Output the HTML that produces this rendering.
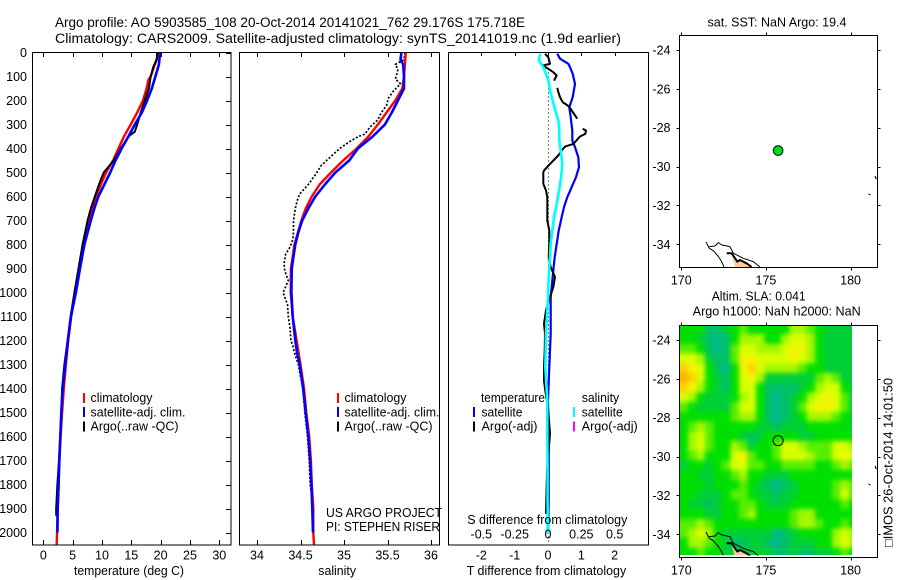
<!DOCTYPE html>
<html lang="en">
<head>
<meta charset="utf-8">
<title>Argo profile 5903585_108</title>
<style>
html,body{margin:0;padding:0;background:#fff;}
svg{display:block;}
text{font-family:"Liberation Sans",sans-serif;font-size:12.5px;fill:#000;}
.t{font-size:13.5px;}
</style>
</head>
<body>
<svg id="fig" xmlns="http://www.w3.org/2000/svg" width="900" height="580" viewBox="0 0 900 580">
  <defs>
    <clipPath id="clip-map1"><rect x="679.5" y="35.5" width="198" height="232"/></clipPath>
    <clipPath id="clip-map2"><rect x="679.5" y="325.5" width="198" height="230"/></clipPath>
    <clipPath id="clip-heat"><rect x="680" y="326" width="172" height="229"/></clipPath>
    <clipPath id="clip-p1"><rect x="32.5" y="52.5" width="198.5" height="492.5"/></clipPath>
    <clipPath id="clip-p2"><rect x="239.5" y="52.5" width="200" height="492.5"/></clipPath>
    <clipPath id="clip-p3"><rect x="448.5" y="52.5" width="200" height="492.5"/></clipPath>
    <filter id="heat-smooth" x="-10%" y="-10%" width="120%" height="120%" color-interpolation-filters="sRGB">
      <feGaussianBlur stdDeviation="2.4"/>
    </filter>
  </defs>

  <text class="t" x="55" y="27" textLength="470" lengthAdjust="spacingAndGlyphs">Argo profile: AO 5903585_108 20-Oct-2014 20141021_762 29.176S 175.718E</text>
  <text class="t" x="55" y="43" textLength="566" lengthAdjust="spacingAndGlyphs">Climatology: CARS2009. Satellite-adjusted climatology: synTS_20141019.nc (1.9d earlier)</text>

  <g id="p1"></g>
  <g id="p2"></g>
  <g id="p3"></g>
  <g id="m1"></g>
  <g id="m2"></g>

  <text x="74" y="575" textLength="110" lengthAdjust="spacingAndGlyphs">temperature (deg C)</text>
  <text x="318.3" y="575" textLength="37.7" lengthAdjust="spacingAndGlyphs">salinity</text>
  <text x="466.7" y="575" textLength="159.5" lengthAdjust="spacingAndGlyphs">T difference from climatology</text>
  <text x="467.3" y="524" textLength="160" lengthAdjust="spacingAndGlyphs">S difference from climatology</text>

  <g>
    <rect x="83" y="393" width="2" height="10" fill="#ff0000"/>
    <rect x="83" y="407" width="2" height="10" fill="#0000ff"/>
    <rect x="83" y="421.5" width="2" height="10" fill="#000"/>
    <text x="90.5" y="402" textLength="62" lengthAdjust="spacingAndGlyphs">climatology</text>
    <text x="90.5" y="416.5" textLength="95" lengthAdjust="spacingAndGlyphs">satellite-adj. clim.</text>
    <text x="90.5" y="430.5" textLength="88" lengthAdjust="spacingAndGlyphs">Argo(..raw -QC)</text>
  </g>
  <g>
    <rect x="337" y="393" width="2" height="10" fill="#ff0000"/>
    <rect x="337" y="407" width="2" height="10" fill="#0000ff"/>
    <rect x="337" y="421.5" width="2" height="10" fill="#000"/>
    <text x="344.5" y="402" textLength="62" lengthAdjust="spacingAndGlyphs">climatology</text>
    <text x="344.5" y="416.5" textLength="95" lengthAdjust="spacingAndGlyphs">satellite-adj. clim.</text>
    <text x="344.5" y="430.5" textLength="88" lengthAdjust="spacingAndGlyphs">Argo(..raw -QC)</text>
  </g>
  <g>
    <text x="481" y="402" textLength="64" lengthAdjust="spacingAndGlyphs">temperature</text>
    <rect x="473" y="407" width="2" height="10" fill="#0000ff"/>
    <text x="481.5" y="416.5" textLength="41" lengthAdjust="spacingAndGlyphs">satellite</text>
    <rect x="473" y="421.5" width="2" height="10" fill="#000"/>
    <text x="481.5" y="430.5" textLength="56" lengthAdjust="spacingAndGlyphs">Argo(-adj)</text>
    <text x="581.7" y="402" textLength="37.5" lengthAdjust="spacingAndGlyphs">salinity</text>
    <rect x="573" y="407" width="2" height="10" fill="#00ffff"/>
    <text x="581.7" y="416.5" textLength="41" lengthAdjust="spacingAndGlyphs">satellite</text>
    <rect x="573" y="421.5" width="2" height="10" fill="#ff00ff"/>
    <text x="581.7" y="430.5" textLength="56" lengthAdjust="spacingAndGlyphs">Argo(-adj)</text>
  </g>

  <text x="326" y="517" textLength="116" lengthAdjust="spacingAndGlyphs">US ARGO PROJECT</text>
  <text x="326" y="531" textLength="114" lengthAdjust="spacingAndGlyphs">PI: STEPHEN RISER</text>

  <text x="707.5" y="26.5" textLength="139" lengthAdjust="spacingAndGlyphs">sat. SST: NaN Argo: 19.4</text>
  <text x="711.7" y="300.5" textLength="94" lengthAdjust="spacingAndGlyphs">Altim. SLA: 0.041</text>
  <text x="692.7" y="315.5" textLength="168" lengthAdjust="spacingAndGlyphs">Argo h1000: NaN h2000: NaN</text>
  <text transform="translate(892.7 547) rotate(-90)" x="0" y="0" textLength="169" lengthAdjust="spacingAndGlyphs">□IMOS 26-Oct-2014 14:01:50</text>
</svg>

<script>
/* ---------- axis tick values ---------- */
const depthTicks = [0,100,200,300,400,500,600,700,800,900,1000,1100,1200,1300,1400,1500,1600,1700,1800,1900,2000];
const tempTicks = [0,5,10,15,20,25,30];
const salTicks = [34,34.5,35,35.5,36];
const salTickLabels = ['34','34.5','35','35.5','36'];
const tDiffTicks = [-2,-1,0,1,2];
const tDiffTickLabels = ['-2','-1','0','1','2'];
const sDiffTicks = [-0.5,-0.25,0,0.25,0.5];
const sDiffTickLabels = ['-0.5','-0.25','0','0.25','0.5'];
const lonTicks = [170,175,180];
const latTicks = [-24,-26,-28,-30,-32,-34];

/* ---------- temperature profiles ---------- */
const tempClimDepths = [0,50,100,115,150,200,250,300,350,400,450,500,550,600,700,800,900,1000,1100,1200,1300,1400,1500,1600,1700,1800,1900,2000,2054];
const tempClimValues = [19.7,19.0,18.3,17.9,17.6,17.0,16.0,14.9,13.75,12.8,11.9,10.7,9.8,9.0,7.8,6.8,6.1,5.45,4.75,4.25,3.85,3.5,3.2,2.95,2.75,2.6,2.45,2.35,2.27];
const tempSatDepths = [0,50,100,150,200,250,300,350,400,450,500,550,600,650,700,800,900,1000,1100,1200,1300,1400,1500,1600,1700,1800,1900,2000];
const tempSatValues = [19.9,19.7,19.1,18.5,17.7,16.8,15.6,14.5,13.35,12.3,11.4,10.4,9.4,8.7,8.1,7.0,6.25,5.55,4.7,4.2,3.75,3.3,3.07,2.9,2.73,2.6,2.45,2.4];
const tempArgoDepths = [0,30,60,100,150,200,250,300,330,350,400,450,500,550,600,650,700,800,900,1000,1100,1200,1300,1400,1500,1600,1700,1800,1900,1930];
const tempArgoValues = [19.4,19.35,18.75,18.3,18.0,17.3,16.6,16.0,15.6,14.5,13.2,12.0,10.3,9.5,8.8,8.1,7.55,6.7,6.0,5.3,4.65,4.15,3.6,3.2,3.07,2.9,2.67,2.4,2.2,2.2];

/* ---------- salinity profiles ---------- */
const salClimDepths = [0,100,150,200,250,300,350,400,450,500,550,600,650,700,750,800,850,900,1000,1100,1200,1300,1400,1500,1600,1700,1800,1900,2000,2054];
const salClimValues = [35.71,35.69,35.67,35.59,35.49,35.39,35.28,35.146,34.99,34.85,34.72,34.63,34.56,34.51,34.47,34.43,34.41,34.39,34.387,34.41,34.455,34.5,34.54,34.567,34.6,34.62,34.63,34.647,34.647,34.655];
const salSatDepths = [0,30,50,100,150,200,250,300,350,400,450,500,550,600,650,700,750,800,850,900,1000,1100,1200,1250,1300,1350,1400,1500,1600,1700,1800,1900,2000];
const salSatValues = [35.66,35.65,35.68,35.69,35.69,35.62,35.55,35.47,35.33,35.16,35.06,34.9,34.78,34.67,34.59,34.52,34.475,34.44,34.42,34.4,34.395,34.41,34.44,34.46,34.49,34.51,34.53,34.56,34.59,34.61,34.625,34.636,34.644];
const salArgoDepths = [0,30,50,70,100,110,130,160,190,220,250,280,310,340,350,370,400,430,470,510,550,590,620,650,700,750,780,810,840,880,910,950,1000,1020,1050,1100,1150,1200,1220,1250,1300,1350,1400,1500,1600,1700,1800,1900,1930];
const salArgoValues = [35.7,35.69,35.59,35.62,35.6,35.59,35.65,35.57,35.51,35.49,35.43,35.39,35.3,35.24,35.165,35.07,34.95,34.86,34.74,34.67,34.59,34.49,34.46,34.44,34.42,34.42,34.41,34.38,34.33,34.31,34.32,34.36,34.3,34.32,34.35,34.36,34.38,34.39,34.41,34.43,34.475,34.5,34.53,34.55,34.58,34.6,34.61,34.65,34.64];

/* ---------- difference profiles ---------- */
const tDiffSatDepths = [5,26,47,61,89,131,186,228,269,325,367,394,436,478,519,561,603,644,686,742,797,853,908,964,1019,1172,1311,1450,1588,1727,1866,2005];
const tDiffSatValues = [0.28,0.36,0.61,0.66,0.74,0.81,0.74,0.64,0.68,0.73,0.73,0.81,0.91,0.93,0.84,0.71,0.58,0.48,0.41,0.32,0.26,0.2,0.16,0.12,0.08,0.08,0.04,0,0.02,0.02,0.02,0];
const tDiffArgoDepths = [6,19,47,54,68,82,96,117,130,147,165,186,207,221,235,256,276,295,318,325,339,350,381,392,408,429,464,492,499,547,575,603,700,742,797,853,894,936,978,1019,1075,1130,1172,1242,1311,1367,1409,1478,1588,1727,1797,1922];
const tDiffArgoValues = [-0.09,0.01,0.06,-0.16,0.01,0.16,0.26,0.18,null,0.28,0.31,0.36,0.44,0.59,0.68,0.78,0.88,null,1.04,1.14,1.12,0.96,0.76,0.51,0.41,0.31,0.06,-0.12,-0.14,-0.14,-0.06,-0.02,-0.02,0.04,0.04,0.02,0.08,0.21,0.16,0.06,-0.06,-0.12,-0.09,-0.1,-0.12,-0.12,-0.08,0,0.06,-0.02,-0.04,-0.06];
const sDiffSatDepths = [5,33,61,89,117,158,200,242,283,325,367,408,464,519,575,631,686,742,797,853,908,964,1019,1172,1311,1450,1588,1727,1866,2005];
const sDiffSatValues = [-0.06,-0.068,-0.035,-0.015,0.003,0.015,0.035,0.055,0.078,0.085,0.085,0.095,0.108,0.098,0.083,0.065,0.045,0.033,0.02,0.015,0.008,0.003,0,-0.015,-0.02,-0.005,-0.005,-0.003,-0.003,-0.002];

/* ---------- map data ---------- */
const profileLon = 175.718;
const profileLat = -29.176;
const coastWestLon = [171.46,171.65,171.89,172.19,172.38,172.52];
const coastWestLat = [-33.88,-34.2,-34.33,-34.63,-34.89,-35.17];
const coastEastLon = [171.65,171.99,172.19,172.38,172.87,173.07,173.66,174.25,174.65];
const coastEastLat = [-34.12,-34.09,-33.91,-34.03,-34.12,-34.46,-34.72,-34.89,-35.17];
const landLon = [172.97,173.23,173.46,173.86,174.15,173.17];
const landLat = [-34.55,-34.89,-34.81,-34.98,-35.17,-35.17];
const shoreLon = [172.68,172.97,173.31,173.46,173.86,174.15];
const shoreLat = [-34.46,-34.46,-34.89,-34.81,-34.98,-35.17];
const islandALon = [181.44,181.48,181.57];
const islandALat = [-30.48,-30.6,-30.6];
const islandBLon = [181.06,181.18];
const islandBLat = [-31.41,-31.46];

/* Sea-level-anomaly heatmap: colour-scale levels.
   Rows run north to south, columns west to east, in half-degree cells. */
const heatRows = [
 [3,3,3,1,1,2,3,4,3,3,3,3,3,5,5,4,3,2,2,2,2],
 [3,3,2,1,0,1,3,5,5,5,3,3,5,6,6,5,3,2,2,2,2],
 [4,4,3,1,0,1,4,6,6,5,5,5,6,7,7,5,3,2,2,2,2],
 [6,6,5,2,1,1,4,7,7,6,6,6,6,7,6,5,3,2,2,2,2],
 [8,7,6,3,1,0,3,7,8,6,5,5,5,5,4,3,3,2,2,2,2],
 [9,8,6,3,2,1,3,6,7,5,2,2,2,2,2,2,4,5,4,2,2],
 [8,7,5,3,2,1,3,6,6,3,1,1,1,1,2,3,5,6,6,3,2],
 [6,5,3,2,2,2,3,5,6,3,1,0,1,2,3,5,6,7,6,4,2],
 [4,3,2,2,2,2,4,6,6,3,1,0,1,2,4,6,7,7,6,4,2],
 [3,3,3,3,3,3,4,5,5,3,1,0,1,2,3,5,5,5,4,3,2],
 [3,4,5,4,3,3,3,3,3,2,2,1,2,2,2,3,3,3,3,3,2],
 [3,5,6,4,3,3,3,2,1,2,3,3,3,3,2,2,3,3,3,3,3],
 [3,5,6,4,3,3,5,4,2,3,3,4,6,6,5,4,4,4,6,6,5],
 [3,4,5,3,3,3,6,7,4,3,3,4,6,6,6,5,4,4,6,7,6],
 [2,3,3,2,3,4,6,6,4,4,3,3,4,4,4,4,3,3,4,5,4],
 [3,3,2,2,3,3,4,5,3,3,2,2,2,3,3,3,3,3,3,3,3],
 [3,3,3,2,3,3,3,4,3,2,1,0,1,2,3,3,3,3,4,5,4],
 [3,3,2,2,2,3,4,4,3,2,2,1,2,2,3,3,3,3,4,6,4],
 [3,2,2,1,2,3,3,4,4,3,2,2,2,3,3,3,3,3,3,4,3],
 [3,3,3,2,2,3,3,4,5,3,3,3,3,4,5,5,3,3,3,3,3],
 [4,4,5,4,3,3,3,3,3,3,3,3,3,4,5,5,4,3,3,4,3],
 [4,5,6,5,3,2,2,2,2,2,2,0,1,2,3,3,3,3,5,6,5],
 [3,5,5,4,3,2,1,1,2,2,1,0,1,2,2,2,3,3,5,6,5],
 [3,3,4,3,3,2,2,2,2,2,2,1,1,2,1,1,2,2,3,4,3]
];
const heatColours = ['#00b98c','#00c068','#00cf38','#00e000','#58ee00','#a4f800','#d8ff00','#f4f400','#ffd000','#ffb000'];

/* ---------- axis functions ---------- */
const yDepth = d => 52.5 + d * 0.24;
const xTemp = t => 43.3 + t * 5.867;
const xSal = s => 257 + (s - 34) * 87;
const xTDiff = v => 548 + v * 33.33;
const xSDiff = v => 548 + v * 133.33;
const xLon = lon => 681.3 + (lon - 170) * 16.93;
const yLat = (lat, top) => top + (-24 - lat) * 19.43;

const NS = 'http://www.w3.org/2000/svg';
function mk(parent, tag, attrs) {
  const el = document.createElementNS(NS, tag);
  for (const k in attrs) el.setAttribute(k, attrs[k]);
  parent.appendChild(el);
  return el;
}
function profilePath(depths, values, xf) {
  let d = '', pen = false;
  depths.forEach((dep, i) => {
    const v = values[i];
    if (v === null) { pen = false; return; }
    d += (pen ? 'L' : 'M') + xf(v).toFixed(1) + ' ' + yDepth(dep).toFixed(1);
    pen = true;
  });
  return d;
}
function mapPath(lons, lats, top, close) {
  let d = '';
  lons.forEach((lon, i) => {
    d += (i ? 'L' : 'M') + xLon(lon).toFixed(1) + ' ' + yLat(lats[i], top).toFixed(1);
  });
  return d + (close ? 'Z' : '');
}
function tickLine(g, x1, y1, x2, y2) {
  return mk(g, 'line', {x1, y1, x2, y2, stroke: '#000', 'stroke-width': 1, 'shape-rendering': 'crispEdges'});
}
function frame(g, x, y, w, h) {
  return mk(g, 'rect', {x, y, width: w, height: h, fill: 'none', stroke: '#000', 'stroke-width': 1, 'shape-rendering': 'crispEdges'});
}
const lineStyle = (colour, width) => ({fill: 'none', stroke: colour, 'stroke-width': width, 'stroke-linejoin': 'round'});

/* ---------- temperature panel ---------- */
const p1 = document.getElementById('p1');
const p2 = document.getElementById('p2');
const p3 = document.getElementById('p3');

let line;
const p1Lines = mk(p1, 'g', {'clip-path': 'url(#clip-p1)'});



line = mk(p1Lines, 'path', Object.assign({d: profilePath(tempClimDepths, tempClimValues, xTemp)}, lineStyle('#ff0000', 2.4)));



line = mk(p1Lines, 'path', Object.assign({d: profilePath(tempArgoDepths, tempArgoValues, xTemp)}, lineStyle('#000000', 2)));



line = mk(p1Lines, 'path', Object.assign({d: profilePath(tempSatDepths, tempSatValues, xTemp)}, lineStyle('#0000ff', 2.6)));



const p1Frame = frame(p1, 32.5, 52.5, 198.5, 492.5);



depthTicks.forEach(d => {
  const y = Math.round(yDepth(d)) + 0.5;
  const tick = tickLine(p1, 226, y, 231, y);
  
  
  const label = mk(p1, 'text', {x: 27, y: yDepth(d) + 4.5, 'text-anchor': 'end'});
  label.textContent = d;
  
  
});
tempTicks.forEach(t => {
  const x = Math.round(xTemp(t)) + 0.5;
  const top = tickLine(p1, x, 52.5, x, 57);
  
  
  const bottom = tickLine(p1, x, 540, x, 545);
  
  
  const label = mk(p1, 'text', {x: xTemp(t), y: 559.3, 'text-anchor': 'middle'});
  label.textContent = t;
  
  
});

/* ---------- salinity panel ---------- */
const p2Lines = mk(p2, 'g', {'clip-path': 'url(#clip-p2)'});



line = mk(p2Lines, 'path', Object.assign({d: profilePath(salArgoDepths, salArgoValues, xSal), 'stroke-dasharray': '2 1.8'}, lineStyle('#000000', 1.7)));



line = mk(p2Lines, 'path', Object.assign({d: profilePath(salClimDepths, salClimValues, xSal)}, lineStyle('#ff0000', 2.4)));



line = mk(p2Lines, 'path', Object.assign({d: profilePath(salSatDepths, salSatValues, xSal)}, lineStyle('#0000ff', 2.6)));



const p2Frame = frame(p2, 239.5, 52.5, 200, 492.5);



salTicks.forEach((s, i) => {
  const x = Math.round(xSal(s)) + 0.5;
  const top = tickLine(p2, x, 52.5, x, 57);
  
  
  const bottom = tickLine(p2, x, 540, x, 545);
  
  
  const label = mk(p2, 'text', {x: xSal(s), y: 559.3, 'text-anchor': 'middle'});
  label.textContent = salTickLabels[i];
  
  
});

/* ---------- difference panel ---------- */
const p3Lines = mk(p3, 'g', {'clip-path': 'url(#clip-p3)'});



const zeroLine = mk(p3Lines, 'line', {x1: xTDiff(0) + 0.5, x2: xTDiff(0) + 0.5, y1: yDepth(0), y2: yDepth(2054), stroke: '#000', 'stroke-width': 1, 'stroke-dasharray': '1 3'});



line = mk(p3Lines, 'path', Object.assign({d: profilePath(tDiffSatDepths, tDiffSatValues, xTDiff)}, lineStyle('#0000ff', 2.2)));



line = mk(p3Lines, 'path', Object.assign({d: profilePath(tDiffArgoDepths, tDiffArgoValues, xTDiff)}, lineStyle('#000000', 2)));



line = mk(p3Lines, 'path', Object.assign({d: profilePath(sDiffSatDepths, sDiffSatValues, xSDiff)}, lineStyle('#00ffff', 2.6)));



const p3Frame = frame(p3, 448.5, 52.5, 200, 492.5);



tDiffTicks.forEach((v, i) => {
  const x = Math.round(xTDiff(v)) + 0.5;
  const top = tickLine(p3, x, 52.5, x, 56);
  
  
  const label = mk(p3, 'text', {x: xTDiff(v), y: 559.3, 'text-anchor': 'middle'});
  label.textContent = tDiffTickLabels[i];
  
  
});
sDiffTicks.forEach((v, i) => {
  const label = mk(p3, 'text', {x: xSDiff(v), y: 538.7, 'text-anchor': 'middle'});
  label.textContent = sDiffTickLabels[i];
  
  
});

/* ---------- maps ---------- */
function drawCoast(g, top, clipId) {
  const c = mk(g, 'g', {'clip-path': 'url(#' + clipId + ')'});
  
  

  const land = mk(c, 'path', {d: mapPath(landLon, landLat, top, true), fill: '#ffcc99', stroke: 'none'});
  
  

  const west = mk(c, 'path', Object.assign({d: mapPath(coastWestLon, coastWestLat, top)}, lineStyle('#000', 1)));
  
  

  const east = mk(c, 'path', Object.assign({d: mapPath(coastEastLon, coastEastLat, top)}, lineStyle('#000', 1)));
  
  

  const shore = mk(c, 'path', Object.assign({d: mapPath(shoreLon, shoreLat, top)}, lineStyle('#000', 2)));
  
  

  const islandA = mk(c, 'path', Object.assign({d: mapPath(islandALon, islandALat, top)}, lineStyle('#000', 1)));
  
  

  const islandB = mk(c, 'path', Object.assign({d: mapPath(islandBLon, islandBLat, top)}, lineStyle('#000', 1)));
  
  
}
function drawMapAxes(g, top, frameTop, frameH) {
  const fr = frame(g, 679.5, frameTop, 198, frameH);
  
  
  lonTicks.forEach(lon => {
    const x = Math.round(xLon(lon)) + 0.5;
    const t1 = tickLine(g, x, frameTop - 3, x, frameTop);
    
    
    const t2 = tickLine(g, x, frameTop + frameH, x, frameTop + frameH + 3);
    
    
    const label = mk(g, 'text', {x: xLon(lon), y: frameTop + frameH + 17, 'text-anchor': 'middle'});
    label.textContent = lon;
    
    
  });
  latTicks.forEach(lat => {
    const y = Math.round(yLat(lat, top)) + 0.5;
    const t1 = tickLine(g, 676.5, y, 679.5, y);
    
    
    const t2 = tickLine(g, 877.5, y, 880.5, y);
    
    
    const label = mk(g, 'text', {x: 670.5, y: yLat(lat, top) + 4.5, 'text-anchor': 'end'});
    label.textContent = lat;
    
    
  });
}

const m1 = document.getElementById('m1');
const m2 = document.getElementById('m2');
const MAP1_TOP = 50;
const MAP2_TOP = 340;

/* map 1 */
drawCoast(m1, MAP1_TOP, 'clip-map1');
drawMapAxes(m1, MAP1_TOP, 35.5, 232);
const dot = mk(m1, 'circle', {cx: xLon(profileLon), cy: yLat(profileLat, MAP1_TOP), r: 4.8, fill: '#00dd22', stroke: '#000', 'stroke-width': 1});



/* map 2 heatmap: cells on the outer edge extend past the clip so the smoothing does not fade at the border */
const heat = mk(m2, 'g', {'clip-path': 'url(#clip-heat)'});


const heatCells = mk(heat, 'g', {filter: 'url(#heat-smooth)'});


const CELL_DEG = 0.5;
const EDGE_PAD = 14;
heatRows.forEach((row, r) => {
  const latN = -23.2 - r * CELL_DEG;
  row.forEach((level, c) => {
    const lonW = 169.9 + c * CELL_DEG;
    let x0 = xLon(lonW), x1 = xLon(lonW + CELL_DEG);
    let y0 = yLat(latN, MAP2_TOP), y1 = yLat(latN - CELL_DEG, MAP2_TOP);
    if (c === 0) x0 -= EDGE_PAD;
    if (c === row.length - 1) x1 += EDGE_PAD;
    if (r === 0) y0 -= EDGE_PAD;
    if (r === heatRows.length - 1) y1 += EDGE_PAD;
    const cell = mk(heatCells, 'rect', {x: x0.toFixed(1), y: y0.toFixed(1), width: (x1 - x0 + 0.6).toFixed(1), height: (y1 - y0 + 0.6).toFixed(1), fill: heatColours[level], 'shape-rendering': 'crispEdges'});
    
    
  });
});
drawCoast(m2, MAP2_TOP, 'clip-map2');
drawMapAxes(m2, MAP2_TOP, 325.5, 232);
const ring = mk(m2, 'circle', {cx: xLon(profileLon), cy: yLat(profileLat, MAP2_TOP), r: 5, fill: 'none', stroke: '#000', 'stroke-width': 1});


</script>
</body>
</html>
